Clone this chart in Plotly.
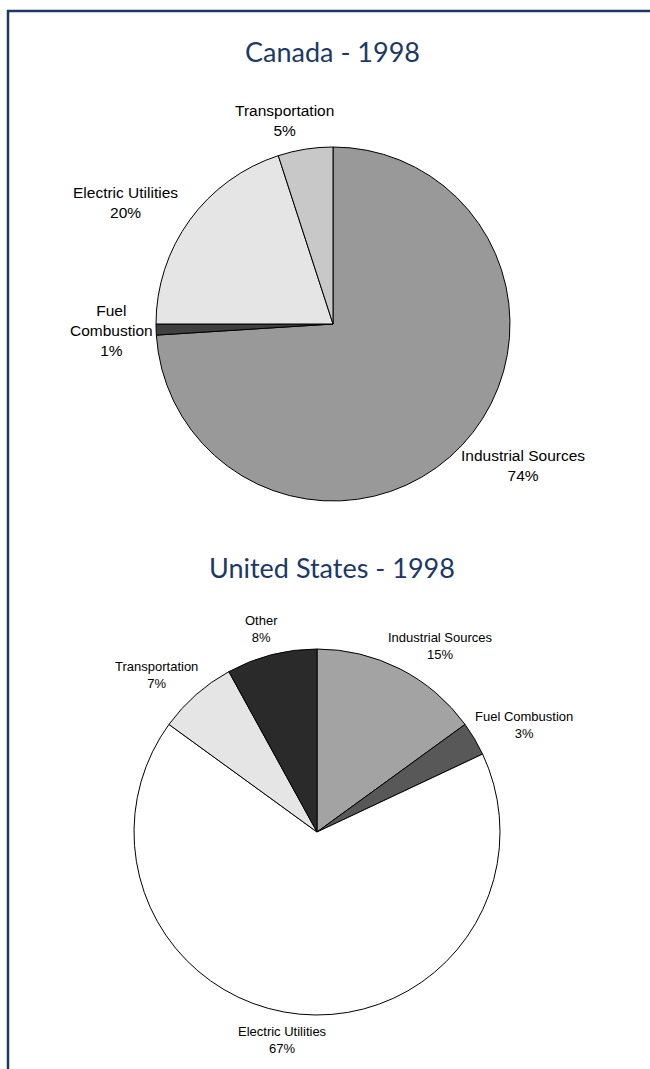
import numpy as np
import plotly.graph_objects as go

ca_labels = ["Industrial Sources", "Fuel<br>Combustion", "Electric Utilities", "Transportation"]
ca_values = [74, 1, 20, 5]
ca_colors = ["#999999", "#404040", "#e5e5e5", "#c8c8c8"]

us_labels = ["Industrial Sources", "Fuel Combustion", "Electric Utilities", "Transportation", "Other"]
us_values = [15, 3, 67, 7, 8]
us_colors = ["#a3a3a3", "#585858", "#ffffff", "#e5e5e5", "#2a2a2a"]

titles = ["Canada - 1998", "United States - 1998"]

W, H = 650, 1069
navy = "#1c3966"
LABEL_FONT = "Liberation Sans, Arial, sans-serif"

# pie domains in pixels: (x0, x1, y0_top, y1_bottom)
pies = [
    dict(labels=ca_labels, values=ca_values, colors=ca_colors, box=(156, 510, 147, 501), fs=15.5),
    dict(labels=us_labels, values=us_values, colors=us_colors, box=(134, 500, 649, 1015), fs=13),
]

fig = go.Figure()
annotations = []
for p in pies:
    x0, x1, yt, yb = p["box"]
    fig.add_trace(go.Pie(
        labels=p["labels"], values=p["values"], sort=False, direction="clockwise", rotation=0,
        marker=dict(colors=p["colors"], line=dict(color="black", width=1)),
        textinfo="none", hoverinfo="label+percent",
        domain=dict(x=[x0 / W, x1 / W], y=[1 - yb / H, 1 - yt / H]),
    ))
    # outside labels placed radially from each slice's mid angle
    cx, cy = (x0 + x1) / 2, (yt + yb) / 2
    r = min(x1 - x0, yb - yt) / 2
    vals = np.array(p["values"], dtype=float)
    frac = vals / vals.sum()
    mids = (np.cumsum(frac) - frac / 2) * 2 * np.pi
    fs = p["fs"]
    gap = 10
    for lab, f, a in zip(p["labels"], frac, mids):
        lines = lab.split("<br>") + ["%d%%" % round(f * 100)]
        w = 0.45 * fs * max(len(s) for s in lines)
        h = 1.25 * fs * len(lines)
        ux, uy = np.sin(a), -np.cos(a)
        lx = cx + (r + gap) * ux + np.sign(ux) * np.sqrt(abs(ux)) * w / 2
        ly = cy + (r + gap) * uy + uy * h / 2
        annotations.append(dict(
            text="<br>".join(lines), x=lx / W, y=1 - ly / H, xref="paper", yref="paper",
            xanchor="center", yanchor="middle", showarrow=False, align="center",
            font=dict(family=LABEL_FONT, size=fs, color="black"),
        ))

annotations += [
    dict(text=titles[0], x=332 / W, y=1 - 52 / H, xref="paper", yref="paper",
         xanchor="center", yanchor="middle", showarrow=False,
         font=dict(family="Lato, Open Sans", size=27, color=navy)),
    dict(text=titles[1], x=332 / W, y=1 - 567.5 / H, xref="paper", yref="paper",
         xanchor="center", yanchor="middle", showarrow=False,
         font=dict(family="Lato, Open Sans", size=27, color=navy)),
]

fig.update_layout(
    width=W, height=H, margin=dict(l=0, r=0, t=0, b=0),
    paper_bgcolor="white", plot_bgcolor="white", showlegend=False,
    annotations=annotations,
    shapes=[
        dict(type="line", xref="paper", yref="paper", x0=7 / W, x1=1, y0=1 - 11 / H, y1=1 - 11 / H,
             line=dict(color=navy, width=2.5)),
        dict(type="line", xref="paper", yref="paper", x0=8 / W, x1=8 / W, y0=0, y1=1 - 10 / H,
             line=dict(color=navy, width=2.5)),
    ],
)

fig.write_html("out.html", config={"displayModeBar": False},
               post_script="document.body.style.margin='0px';")
